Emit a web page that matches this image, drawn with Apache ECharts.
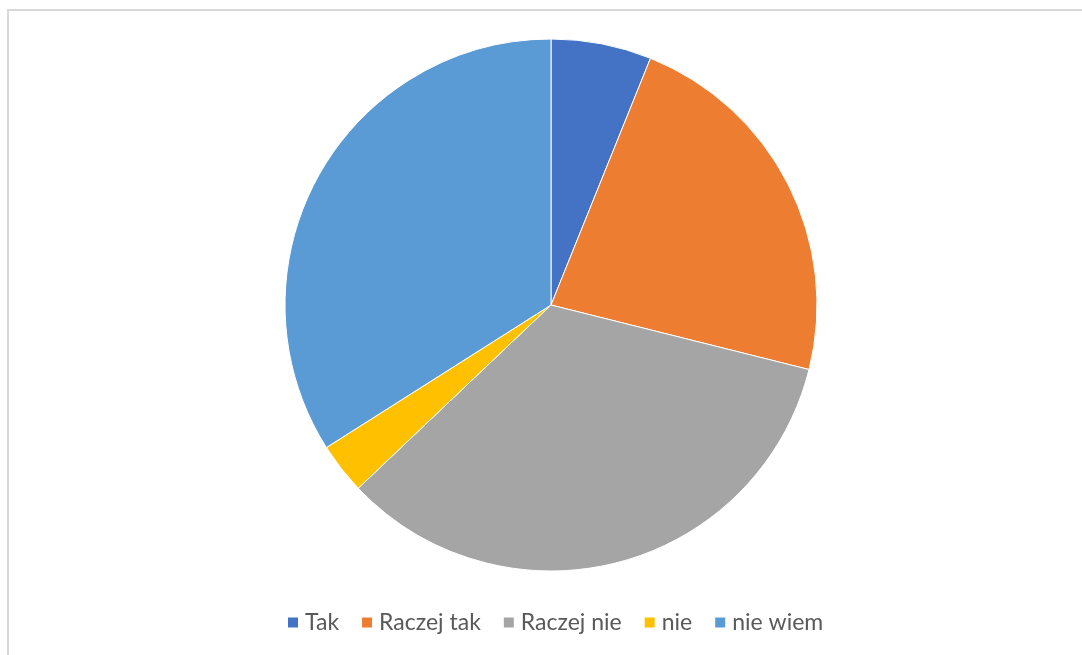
<!DOCTYPE html>
<html><head><meta charset="utf-8">
<script src="https://cdn.jsdelivr.net/npm/echarts@6/dist/echarts.min.js"></script>
<style>
html,body{margin:0;padding:0;background:#fff;overflow:hidden;}
#frame{position:absolute;left:7px;top:9px;width:1100px;height:700px;border-left:2px solid #d9d9d9;border-top:2px solid #d9d9d9;box-sizing:border-box;}
#c{position:absolute;left:0;top:0;width:1082px;height:655px;}
</style></head>
<body>
<div id="frame"></div>
<div id="c"></div>
<script>
const categories = ["Tak", "Raczej tak", "Raczej nie", "nie", "nie wiem"];
const values = [6.1, 22.8, 34.0, 3.1, 34.0];
const colors = ["#4472C4", "#ED7D31", "#A5A5A5", "#FFC000", "#5B9BD5"];

const chart = echarts.init(document.getElementById('c'));
chart.setOption({
  animation: false,
  color: colors,
  legend: {
    data: categories,
    top: 606,
    left: 281,
    icon: 'rect',
    itemWidth: 12,
    itemHeight: 12,
    itemGap: 21,
    textStyle: { fontFamily: 'Lato, Open Sans, sans-serif', fontSize: 23, color: '#595959', padding: [0, 0, 0, 1] }
  },
  series: [{
    type: 'pie',
    center: [551, 305],
    radius: [0, 266],
    startAngle: 90,
    clockwise: true,
    label: { show: false },
    labelLine: { show: false },
    itemStyle: { borderColor: '#fff', borderWidth: 1 },
    data: categories.map((n, i) => ({ name: n, value: values[i] }))
  }]
});
</script>
</body></html>
